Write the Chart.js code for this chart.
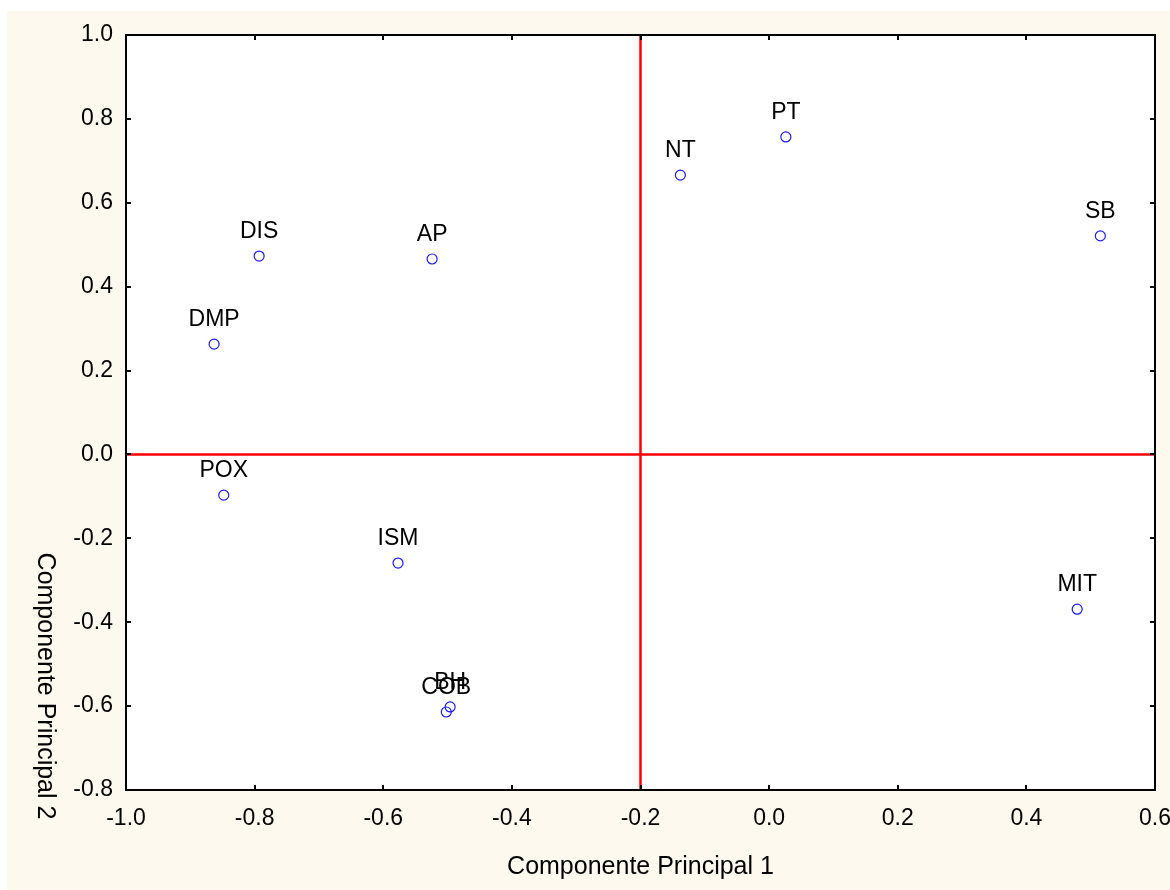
<!DOCTYPE html>
<html>
<head>
<meta charset="utf-8">
<title>Componente Principal 1 x 2</title>
<script src="https://cdn.jsdelivr.net/npm/chart.js@4.4.1/dist/chart.umd.min.js"></script>
<style>
  html, body { margin: 0; padding: 0; background: #ffffff; }
  canvas { display: block; }
</style>
</head>
<body>
<canvas id="chart" width="1170" height="890"></canvas>
<script>
// variable loadings on the first two principal components
const variables = ['DIS', 'AP', 'DMP', 'POX', 'ISM', 'BH', 'COB', 'NT', 'PT', 'SB', 'MIT'];
const pc1 = [-0.793, -0.524, -0.863, -0.848, -0.577, -0.496, -0.502, -0.138, 0.026, 0.515, 0.479];
const pc2 = [0.473, 0.466, 0.263, -0.097, -0.259, -0.602, -0.614, 0.666, 0.757, 0.521, -0.369];

// reference lines
const xRef = -0.2;
const yRef = 0.0;

const xMin = -1.0, xMax = 0.6, yMin = -0.8, yMax = 1.0, step = 0.2;

const FONT = '"Liberation Sans", Arial, Helvetica, sans-serif';

const fmt = v => (Math.abs(v) < 1e-9 ? 0 : v).toFixed(1);

// cream page, white plot area, black frame with inward ticks
const framePlugin = {
  id: 'frame',
  beforeDraw(chart) {
    const { ctx, chartArea: a } = chart;
    ctx.save();
    ctx.fillStyle = '#ffffff';
    ctx.fillRect(0, 0, chart.width, chart.height);
    ctx.fillStyle = '#fdf9ef';
    ctx.fillRect(7, 11, chart.width - 7, chart.height - 11);
    ctx.fillStyle = '#ffffff';
    ctx.fillRect(a.left, a.top, a.right - a.left, a.bottom - a.top);
    ctx.restore();
  },
  afterDraw(chart) {
    const { ctx, chartArea: a, scales } = chart;
    ctx.save();
    ctx.strokeStyle = '#000000';
    ctx.lineWidth = 2;
    ctx.strokeRect(a.left, a.top, a.right - a.left, a.bottom - a.top);
    ctx.beginPath();
    const len = 5;
    scales.x.ticks.forEach(t => {
      const px = Math.round(scales.x.getPixelForValue(t.value));
      ctx.moveTo(px, a.bottom); ctx.lineTo(px, a.bottom - len);
      ctx.moveTo(px, a.top); ctx.lineTo(px, a.top + len);
    });
    scales.y.ticks.forEach(t => {
      const py = Math.round(scales.y.getPixelForValue(t.value));
      ctx.moveTo(a.left, py); ctx.lineTo(a.left + len, py);
      ctx.moveTo(a.right, py); ctx.lineTo(a.right - len, py);
    });
    ctx.stroke();

    // axis titles
    ctx.fillStyle = '#000000';
    ctx.font = '25px ' + FONT;
    ctx.textAlign = 'center';
    ctx.textBaseline = 'middle';
    ctx.fillText('Componente Principal 1', (a.left + a.right) / 2, 867);
    ctx.translate(45, 686);
    ctx.rotate(Math.PI / 2);
    ctx.fillText('Componente Principal 2', 0, 0);
    ctx.restore();
  }
};

// variable names above each point
const pointLabels = {
  id: 'pointLabels',
  afterDatasetsDraw(chart) {
    const { ctx } = chart;
    const meta = chart.getDatasetMeta(2);
    ctx.save();
    ctx.fillStyle = '#000000';
    ctx.font = '23px ' + FONT;
    ctx.textAlign = 'center';
    ctx.textBaseline = 'alphabetic';
    meta.data.forEach((pt, i) => {
      ctx.fillText(variables[i], pt.x, pt.y - 18);
    });
    ctx.restore();
  }
};

new Chart(document.getElementById('chart'), {
  type: 'scatter',
  data: {
    datasets: [
      {
        type: 'line',
        data: [{ x: xRef, y: yMin }, { x: xRef, y: yMax }],
        borderColor: '#ff0000',
        borderWidth: 2.5,
        pointRadius: 0,
        fill: false
      },
      {
        type: 'line',
        data: [{ x: xMin, y: yRef }, { x: xMax, y: yRef }],
        borderColor: '#ff0000',
        borderWidth: 2.5,
        pointRadius: 0,
        fill: false
      },
      {
        data: variables.map((v, i) => ({ x: pc1[i], y: pc2[i] })),
        pointRadius: 5,
        pointBorderWidth: 1.2,
        pointBorderColor: '#1a1aff',
        pointBackgroundColor: 'rgba(255,255,255,0)'
      }
    ]
  },
  options: {
    responsive: false,
    devicePixelRatio: 1,
    animation: false,
    layout: { padding: { left: 0, top: 35, right: 15, bottom: 0 } },
    plugins: {
      legend: { display: false },
      tooltip: { enabled: false }
    },
    scales: {
      x: {
        type: 'linear',
        min: xMin,
        max: xMax,
        grid: { display: false, drawTicks: false },
        border: { display: false },
        ticks: {
          stepSize: step,
          padding: 15,
          color: '#000000',
          font: { family: FONT, size: 23 },
          maxRotation: 0,
          autoSkip: false,
          callback: v => fmt(v)
        },
        afterFit: s => {
          s.height = 100;
          s.paddingLeft = 0;
          s.paddingRight = 0;
        }
      },
      y: {
        type: 'linear',
        min: yMin,
        max: yMax,
        grid: { display: false, drawTicks: false },
        border: { display: false },
        ticks: {
          stepSize: step,
          padding: 13,
          color: '#000000',
          font: { family: FONT, size: 23 },
          autoSkip: false,
          callback: v => fmt(v)
        },
        afterFit: s => {
          s.width = 126;
          s.paddingTop = 0;
          s.paddingBottom = 0;
        }
      }
    }
  },
  plugins: [framePlugin, pointLabels]
});
</script>
</body>
</html>
